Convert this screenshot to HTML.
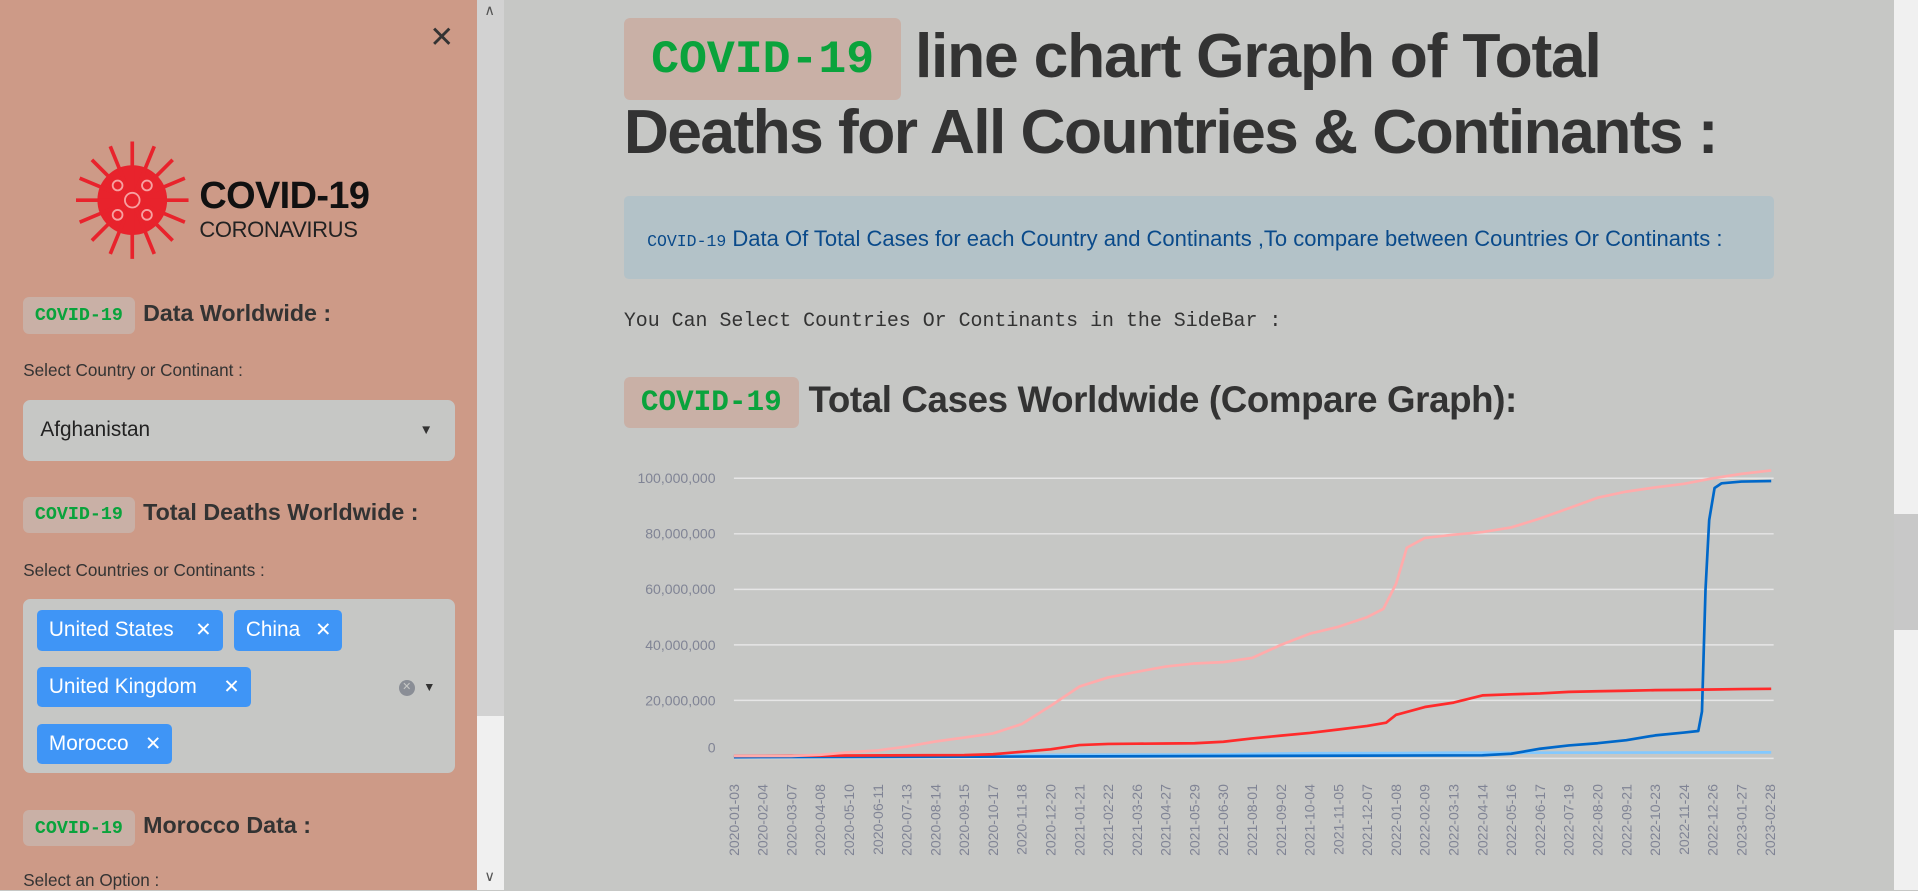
<!DOCTYPE html>
<html><head><meta charset="utf-8">
<style>
html,body{margin:0;padding:0;width:1918px;height:891px;overflow:hidden;background:#c6c7c5;}
#root{zoom:1.22321;width:1568px;height:728px;position:relative;font-family:"Liberation Sans",sans-serif;color:#333;}
.abs{position:absolute;}
.badge{position:absolute;background:#c9b0a6;border-radius:5px;color:#0aa33c;font-family:"Liberation Mono",monospace;font-weight:bold;display:flex;align-items:center;justify-content:center;}
.tag{position:absolute;background:#3f95f6;color:#fff;border-radius:4px;font-size:17px;height:33px;line-height:33px;padding-left:10px;box-sizing:border-box;}
.tag span{position:absolute;right:9px;top:0;font-size:16px;}
</style></head><body>
<div id="root">
<div class="abs" style="left:0;top:0;width:390px;height:728px;background:#cd9a87;">
  <div class="abs" style="left:351px;top:16px;font-size:24px;color:#333;">✕</div>
  <svg class="abs" style="left:62px;top:114px" width="96" height="100" viewBox="0 0 96 100">
    <g fill="#e8232c" stroke="#e8232c">
      <circle cx="46" cy="50" r="28"/>
      <g stroke-width="3">
        <line x1="46" y1="2" x2="46" y2="98"/><line x1="0" y1="50" x2="92" y2="50"/>
        <line x1="13" y1="17" x2="79" y2="83"/><line x1="79" y1="17" x2="13" y2="83"/>
        <line x1="28" y1="6" x2="64" y2="94"/><line x1="64" y1="6" x2="28" y2="94"/>
        <line x1="3" y1="32" x2="89" y2="68"/><line x1="3" y1="68" x2="89" y2="32"/>
      </g>
    </g>
    <g fill="none" stroke="#f7a0a0" stroke-width="1.5"><circle cx="46" cy="50" r="6"/><circle cx="34" cy="38" r="4"/><circle cx="58" cy="62" r="4"/><circle cx="58" cy="38" r="4"/><circle cx="34" cy="62" r="4"/></g>
  </svg>
  <div class="abs" style="left:163px;top:143px;font-size:31px;font-weight:bold;color:#111;letter-spacing:-0.5px;">COVID-19</div>
  <div class="abs" style="left:163px;top:177px;font-size:18px;color:#222;letter-spacing:-0.3px;">CORONAVIRUS</div>

  <div class="badge" style="left:19px;top:243px;width:91px;height:30px;font-size:15px;">COVID-19</div>
  <div class="abs" style="left:117px;top:245px;font-size:19px;font-weight:bold;">Data Worldwide :</div>
  <div class="abs" style="left:19px;top:295px;font-size:14px;">Select Country or Continant :</div>
  <div class="abs" style="left:19px;top:327px;width:353px;height:50px;background:#c6c7c5;border-radius:6px;">
    <div class="abs" style="left:14px;top:15px;font-size:17px;color:#222;">Afghanistan</div>
    <div class="abs" style="left:324px;top:18px;font-size:11px;color:#333;">▼</div>
  </div>

  <div class="badge" style="left:19px;top:406px;width:91px;height:30px;font-size:15px;">COVID-19</div>
  <div class="abs" style="left:117px;top:408px;font-size:19px;font-weight:bold;">Total Deaths Worldwide :</div>
  <div class="abs" style="left:19px;top:459px;font-size:14px;">Select Countries or Continants :</div>
  <div class="abs" style="left:19px;top:490px;width:353px;height:142px;background:#c6c7c5;border-radius:6px;">
    <div class="tag" style="left:11px;top:9px;width:152px;">United States<span>✕</span></div>
    <div class="tag" style="left:172px;top:9px;width:89px;">China<span>✕</span></div>
    <div class="tag" style="left:11px;top:55px;width:175px;">United Kingdom<span>✕</span></div>
    <div class="tag" style="left:11px;top:102px;width:111px;">Morocco<span>✕</span></div>
    <div class="abs" style="left:307px;top:66px;width:13px;height:13px;border-radius:50%;background:#8a8e96;color:#c6c7c5;font-size:9px;text-align:center;line-height:13px;">✕</div>
    <div class="abs" style="left:327px;top:66px;font-size:10px;">▼</div>
  </div>

  <div class="badge" style="left:19px;top:662px;width:91px;height:30px;font-size:15px;">COVID-19</div>
  <div class="abs" style="left:117px;top:664px;font-size:19px;font-weight:bold;">Morocco Data :</div>
  <div class="abs" style="left:19px;top:712px;font-size:14px;">Select an Option :</div>
</div>
<div class="abs" style="left:390px;top:0;width:22px;height:728px;background:#f0f0f0;">
  <div class="abs" style="left:0;top:0;width:22px;height:585px;background:#d2d2d2;"></div>
  <div class="abs" style="left:6px;top:2px;font-size:12px;color:#555;">∧</div>
  <div class="abs" style="left:6px;top:710px;font-size:12px;color:#555;">∨</div>
</div>
<div class="abs" style="left:1548px;top:0;width:20px;height:728px;background:#f0f0f0;">
  <div class="abs" style="left:0;top:420px;width:20px;height:95px;background:#c8c8c8;"></div>
</div>

<div class="badge" style="left:510px;top:15px;width:227px;height:67px;font-size:38px;">COVID-19</div>
<div class="abs" style="left:748px;top:17px;font-size:51px;font-weight:bold;letter-spacing:-1px;">line chart Graph of Total</div>
<div class="abs" style="left:510px;top:79px;font-size:51px;font-weight:bold;letter-spacing:-1.3px;">Deaths for All Countries &amp; Continants :</div>
<div class="abs" style="left:510px;top:160px;width:940px;height:68px;background:#b3c2c8;border-radius:4px;">
  <div class="abs" style="left:19px;top:25px;font-size:18px;color:#0a4a8a;white-space:nowrap;"><span style="font-family:'Liberation Mono',monospace;font-size:13.5px;">COVID-19</span> Data Of Total Cases for each Country and Continants ,To compare between Countries Or Continants :</div>
</div>
<div class="abs" style="left:510px;top:253px;font-family:'Liberation Mono',monospace;font-size:16.3px;color:#333;">You Can Select Countries Or Continants in the SideBar :</div>
<div class="badge" style="left:510px;top:308px;width:143px;height:42px;font-size:24px;">COVID-19</div>
<div class="abs" style="left:661px;top:310px;font-size:30px;font-weight:bold;letter-spacing:-0.3px;">Total Cases Worldwide (Compare Graph):</div>

<svg class="abs" id="chart" style="left:0;top:0" width="1568" height="728"></svg>
</div>
<script>
const yTicks=[0,20000000,40000000,60000000,80000000,100000000];
const xTickLabels=["2020-01-03","2020-02-04","2020-03-07","2020-04-08","2020-05-10","2020-06-11","2020-07-13","2020-08-14","2020-09-15","2020-10-17","2020-11-18","2020-12-20","2021-01-21","2021-02-22","2021-03-26","2021-04-27","2021-05-29","2021-06-30","2021-08-01","2021-09-02","2021-10-04","2021-11-05","2021-12-07","2022-01-08","2022-02-09","2022-03-13","2022-04-14","2022-05-16","2022-06-17","2022-07-19","2022-08-20","2022-09-21","2022-10-23","2022-11-24","2022-12-26","2023-01-27","2023-02-28"];
const usDates=["2020-01-03","2020-03-07","2020-04-08","2020-05-10","2020-06-11","2020-07-13","2020-08-14","2020-09-15","2020-10-17","2020-11-18","2020-12-20","2021-01-21","2021-02-22","2021-03-26","2021-04-27","2021-05-29","2021-06-30","2021-08-01","2021-09-02","2021-10-04","2021-11-05","2021-12-07","2021-12-25","2022-01-08","2022-01-20","2022-02-09","2022-03-13","2022-04-14","2022-05-16","2022-06-17","2022-07-19","2022-08-20","2022-09-21","2022-10-23","2022-11-24","2022-12-26","2023-01-27","2023-03-01"];
const usValues=[0,0,0.4,1.3,2.0,3.4,5.2,6.6,8.1,11.5,18,25,28.3,30.3,32.2,33.3,33.8,35.3,40,44,46.5,50,53,62,75,78.5,79.7,80.6,82.3,85.5,89.2,93,95.2,96.7,98,100,101.6,102.8];
const ukDates=["2020-01-03","2020-09-15","2020-10-17","2020-11-18","2020-12-20","2021-01-21","2021-02-22","2021-03-26","2021-04-27","2021-05-29","2021-06-30","2021-08-01","2021-09-02","2021-10-04","2021-11-05","2021-12-07","2021-12-28","2022-01-08","2022-02-09","2022-03-13","2022-04-14","2022-05-16","2022-06-17","2022-07-19","2022-08-20","2022-09-21","2022-10-23","2022-11-24","2022-12-26","2023-01-27","2023-03-01"];
const ukValues=[0,0.3,0.6,1.5,2.4,3.9,4.3,4.4,4.5,4.6,5.1,6.3,7.3,8.3,9.5,10.8,12,14.8,17.6,19.2,21.8,22.2,22.5,23.1,23.3,23.5,23.7,23.8,23.9,24.1,24.2];
const cnDates=["2020-01-03","2022-04-14","2022-05-16","2022-06-17","2022-07-19","2022-08-20","2022-09-21","2022-10-23","2022-11-24","2022-12-10","2022-12-14","2022-12-18","2022-12-22","2022-12-28","2023-01-05","2023-01-27","2023-03-01"];
const cnValues=[-0.5,0.2,0.8,2.6,3.8,4.6,5.7,7.4,8.4,9.0,16,60,85,96.5,98.2,98.8,99];
const maDates=["2020-01-03","2020-06-11","2020-12-20","2021-06-30","2021-08-15","2021-10-04","2022-01-08","2022-03-13","2023-03-01"];
const maValues=[0,0.01,0.4,0.55,0.8,0.95,1.0,1.15,1.27];
const NS='http://www.w3.org/2000/svg';
const svg=document.getElementById('chart');
const x0=Date.parse("2020-01-03"),x1=Date.parse("2023-03-01");
function xScale(d){return 600+(Date.parse(d)-x0)/(x1-x0)*848;}
function yScale(v){return 618-v/100000000*227;}
function mk(tag,attrs){const e=document.createElementNS(NS,tag);for(const k in attrs)e.setAttribute(k,attrs[k]);svg.appendChild(e);return e;}
yTicks.forEach(t=>{
  const y=yScale(t);
  const g=mk('line',{x1:600,x2:1450,y1:t===0?y+2:y,y2:t===0?y+2:y,stroke:'#e6e6e6','stroke-width':1.2});
  
  
  const tx=mk('text',{x:585,y:(t===0?y-3:y+4),'text-anchor':'end','font-size':11.5,fill:'#808495','font-family':'Liberation Sans, sans-serif'});
  tx.textContent=t.toLocaleString('en-US');
  
  
});
xTickLabels.forEach((d,i)=>{
  const x=xScale(d);
  if(x>1452)return;
  const tx=mk('text',{x:0,y:0,transform:`translate(${x+4},${641}) rotate(-90)`,'text-anchor':'end','font-size':11.5,fill:'#808495','font-family':'Liberation Sans, sans-serif'});
  tx.textContent=d;
  
  
});
function drawLine(dates,vals,color,name){
  const pts=dates.map((d,i)=>xScale(d).toFixed(1)+','+yScale(vals[i]*1e6).toFixed(1)).join(' ');
  const p=mk('polyline',{points:pts,fill:'none',stroke:color,'stroke-width':2.2,'stroke-linejoin':'round'});
  
  
}
drawLine(maDates,maValues,'#83c9ff','line-morocco');
drawLine(cnDates,cnValues,'#0068c9','line-china');
drawLine(ukDates,ukValues,'#ff2b2b','line-united-kingdom');
drawLine(usDates,usValues,'#ffabab','line-united-states');
</script>
</body></html>
